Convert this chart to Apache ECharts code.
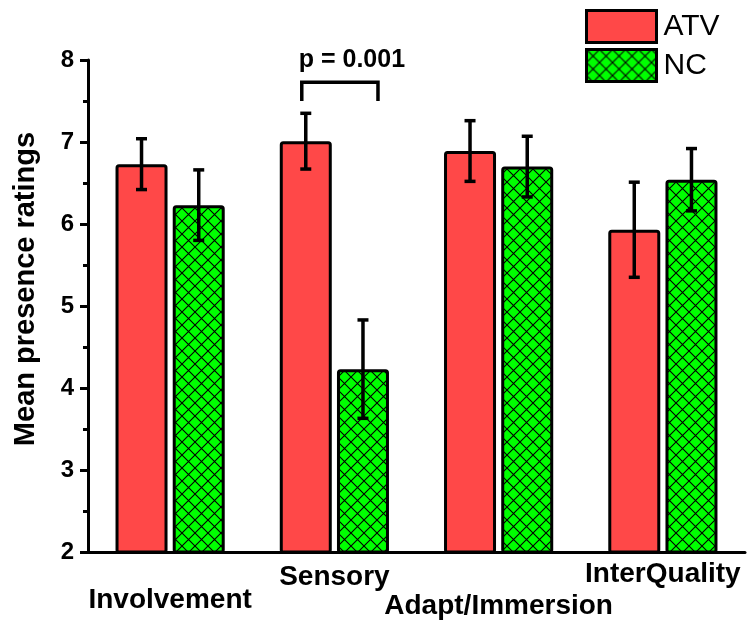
<!DOCTYPE html>
<html>
<head>
<meta charset="utf-8">
<script src="https://cdn.jsdelivr.net/npm/echarts@6/dist/echarts.min.js"></script>
<style>
  html, body { margin: 0; padding: 0; background: #fff; }
  #chart { width: 749px; height: 624px; }
</style>
</head>
<body>
<div id="chart"></div>
<script>
// Presence questionnaire subscales, mean ± error per condition
const categories = ['Involvement', 'Sensory', 'Adapt/Immersion', 'InterQuality'];
const atvMean = [6.73, 7.01, 6.89, 5.93];
const atvErr  = [0.31, 0.34, 0.37, 0.58];
const ncMean  = [6.23, 4.23, 6.70, 6.54];
const ncErr   = [0.43, 0.60, 0.37, 0.38];
const yTicks  = [2, 3, 4, 5, 6, 7, 8];

// Significance annotation (category index, bracket levels, text)
const sigIndex = 1;
const sigTop = 7.73;
const sigLegBottom = 7.5;
const sigText = 'p = 0.001';
const sigTextLevel = 8.0;

const FONT = '"Liberation Sans", Arial, sans-serif';
const BAR_W = 52;
const BAR_GAP = 0.1;
const HALF_STEP = (BAR_W + BAR_W * BAR_GAP) / 2;

// Green fill with black cross-hatching
function hatchPattern() {
  const s = 13;
  const c = document.createElement('canvas');
  c.width = s; c.height = s;
  const g = c.getContext('2d');
  g.fillStyle = '#00ff00';
  g.fillRect(0, 0, s, s);
  g.strokeStyle = '#000';
  g.lineWidth = 1.1;
  g.beginPath();
  g.moveTo(-1, -1); g.lineTo(s + 1, s + 1);
  g.moveTo(s + 1, -1); g.lineTo(-1, s + 1);
  g.stroke();
  return c;
}
const hatch = { image: hatchPattern(), repeat: 'repeat' };
const red = '#ff4848';

function errorSeries(name, means, errs, shift) {
  return {
    type: 'custom',
    name: name + ' err',
    z: 5,
    data: means.map((m, i) => [i, m, errs[i]]),
    renderItem: function (params, api) {
      const i = api.value(0), m = api.value(1), e = api.value(2);
      const hi = api.coord([i, m + e]);
      const lo = api.coord([i, m - e]);
      const x = hi[0] + shift;
      const cap = 5.5;
      const st = { stroke: '#000', lineWidth: 3.5 };
      return {
        type: 'group',
        children: [
          { type: 'line', shape: { x1: x, y1: hi[1], x2: x, y2: lo[1] }, style: st },
          { type: 'line', shape: { x1: x - cap, y1: hi[1], x2: x + cap, y2: hi[1] }, style: st },
          { type: 'line', shape: { x1: x - cap, y1: lo[1], x2: x + cap, y2: lo[1] }, style: st }
        ]
      };
    },
    encode: { x: 0, y: 1 },
    silent: true
  };
}

const chart = echarts.init(document.getElementById('chart'), null, { renderer: 'canvas' });
const labelPads = [26, 3, 32, 0];
const rich = {};
labelPads.forEach((p, i) => {
  rich['s' + i] = { fontFamily: FONT, fontWeight: 'bold', fontSize: 28, color: '#000', padding: [p, 0, 0, 0] };
});

chart.setOption({
  animation: false,
  backgroundColor: '#fff',
  grid: { left: 88, right: 4, top: 60, bottom: 72, containLabel: false },
  legend: {
    orient: 'vertical',
    left: 580,
    top: 4,
    itemWidth: 70,
    itemHeight: 32,
    itemGap: 4,
    icon: 'rect',
    textStyle: { fontFamily: FONT, fontSize: 30, color: '#000', padding: [0, 0, 0, 2] },
    data: [
      { name: 'ATV', itemStyle: { color: red, borderColor: '#000', borderWidth: 3 } },
      { name: 'NC', itemStyle: { color: hatch, borderColor: '#000', borderWidth: 3 } }
    ]
  },
  xAxis: {
    type: 'category',
    data: categories,
    boundaryGap: true,
    axisLine: { lineStyle: { color: '#000', width: 3 } },
    axisTick: { show: false },
    axisLabel: {
      interval: 0,
      margin: 8,
      formatter: (v, i) => '{s' + i + '|' + v + '}',
      rich: rich
    }
  },
  yAxis: {
    type: 'value',
    min: yTicks[0],
    max: yTicks[yTicks.length - 1],
    interval: 1,
    name: 'Mean presence ratings',
    nameLocation: 'middle',
    nameGap: 48,
    nameTextStyle: { fontFamily: FONT, fontWeight: 'bold', fontSize: 29, color: '#000', padding: [0, 0, 0, 34] },
    axisLine: { show: true, lineStyle: { color: '#000', width: 3 } },
    axisTick: { show: true, length: 8, lineStyle: { color: '#000', width: 3 } },
    minorTick: { show: true, splitNumber: 2, length: 5, lineStyle: { color: '#000', width: 3 } },
    splitLine: { show: false },
    axisLabel: { fontFamily: FONT, fontWeight: 'bold', fontSize: 24, color: '#000', margin: 14 }
  },
  series: [
    {
      name: 'ATV', type: 'bar', data: atvMean, barWidth: BAR_W, barGap: (BAR_GAP * 100) + '%',
      itemStyle: { color: red, borderColor: '#000', borderWidth: 3, borderRadius: 2 }
    },
    {
      name: 'NC', type: 'bar', data: ncMean, barWidth: BAR_W,
      itemStyle: { color: hatch, borderColor: '#000', borderWidth: 3, borderRadius: 2 }
    },
    errorSeries('ATV', atvMean, atvErr, -HALF_STEP),
    errorSeries('NC', ncMean, ncErr, HALF_STEP),
    {
      type: 'custom',
      name: 'sig',
      z: 6,
      silent: true,
      data: [[sigIndex, sigTop, sigLegBottom, sigTextLevel]],
      encode: { x: 0, y: 1 },
      renderItem: function (params, api) {
        const i = api.value(0);
        const top = api.coord([i, api.value(1)]);
        const bot = api.coord([i, api.value(2)]);
        const txt = api.coord([i, api.value(3)]);
        const xl = top[0] - HALF_STEP - 4;
        const xr = top[0] + HALF_STEP + 15;
        return {
          type: 'group',
          children: [
            {
              type: 'polyline',
              shape: { points: [[xl, bot[1]], [xl, top[1]], [xr, top[1]], [xr, bot[1]]] },
              style: { stroke: '#000', lineWidth: 3.5, fill: null }
            },
            {
              type: 'text',
              style: {
                x: (xl + xr) / 2 + 12, y: txt[1],
                text: sigText,
                font: 'bold 25px ' + FONT,
                fill: '#000',
                align: 'center',
                verticalAlign: 'middle'
              }
            }
          ]
        };
      }
    }
  ]
});
</script>
</body>
</html>
